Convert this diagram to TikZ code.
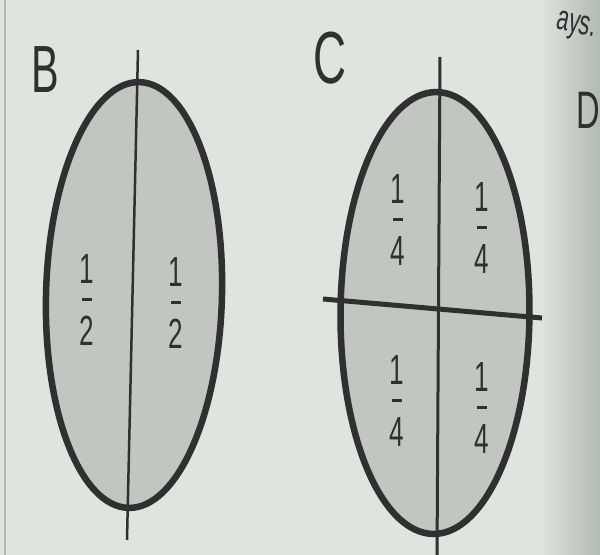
\documentclass[tikz,border=0pt]{standalone}
\usepackage{fontspec}
\newfontfamily\figfont[FakeStretch=0.62]{Liberation Sans}
\usetikzlibrary{shapes.geometric, positioning}
\definecolor{paper}{RGB}{222,228,222}
\definecolor{pageshadow}{RGB}{178,186,180}
\definecolor{shade}{RGB}{194,198,193}
\definecolor{ink}{RGB}{48,48,48}
% one fraction: numerator, short bar, denominator
\newcommand{\fracstack}[2]{\vbox{\offinterlineskip
  \hbox to 0.5cm{\hss#1\hss}\vskip0.3cm
  \hbox to 0.5cm{\hss\rule{0.2cm}{0.06cm}\hss}\vskip0.3cm
  \hbox to 0.5cm{\hss#2\hss}}}

\begin{document}
\begin{tikzpicture}[
			x=0.02cm, y=0.02cm,
			oval/.style={ellipse, draw=ink, fill=shade, line width=0.13cm, inner sep=0pt},
			divider/.style={draw=ink, line width=0.05cm},
			frac/.style={text=ink, inner sep=0pt, font=\figfont\fontsize{24}{24}\selectfont},
			letter/.style={text=ink, inner sep=0pt, font=\figfont\fontsize{38}{38}\selectfont}
			]
			\useasboundingbox (0,0) rectangle (600,555);
			\clip (0,0) rectangle (600,555);
			\fill[paper] (0,0) rectangle (600,555);
			\shade[left color=paper, right color=pageshadow] (540,0) rectangle (600,555);
			\draw[pageshadow, line width=0.04cm] (5,0) -- (5,555);
			% B: halves
			\node[oval, minimum width=3.52cm, minimum height=8.52cm, rotate=-1.5] (halves) at (134,260) {};
			\coordinate (btop) at (138,505);
			\coordinate (bbot) at (127,15);
			\draw[divider] (btop) -- (bbot);
			\node[letter] (labelB) at (45,485) {B};
			\node[frac] (halfL) at (87,255) {\fracstack{1}{2}};
			\node[frac] (halfR) at (176,252) {\fracstack{1}{2}};
			% C: quarters
			\node[oval, minimum width=3.78cm, minimum height=8.84cm, rotate=-0.4] (quarters) at (435,242) {};
			\coordinate (ctop) at (440,498);
			\coordinate (cbot) at (437,-5);
			\coordinate (cleft) at (323,256);
			\coordinate (cright) at (542,237);
			\draw[divider, line width=0.06cm] (ctop) -- (cbot);
			\draw[divider, line width=0.1cm] (cleft) -- (cright);
			\node[letter, font=\figfont\fontsize{42}{42}\selectfont] (labelC) at (330,497) {C};
			\node[frac] (quarterTL) at (398,335) {\fracstack{1}{4}};
			\node[frac] (quarterTR) at (482,327) {\fracstack{1}{4}};
			\node[frac] (quarterBL) at (397,154) {\fracstack{1}{4}};
			\node[frac] (quarterBR) at (482,147) {\fracstack{1}{4}};
			% edges of the next items on the page
			\node[letter, font=\figfont\fontsize{30}{30}\selectfont] (labelD) at (588,445) {D};
			\node[letter, font=\figfont\fontsize{20}{20}\selectfont, rotate=-12] (pagetext) at (576,528) {ays.};
		\end{tikzpicture}
\end{document}
